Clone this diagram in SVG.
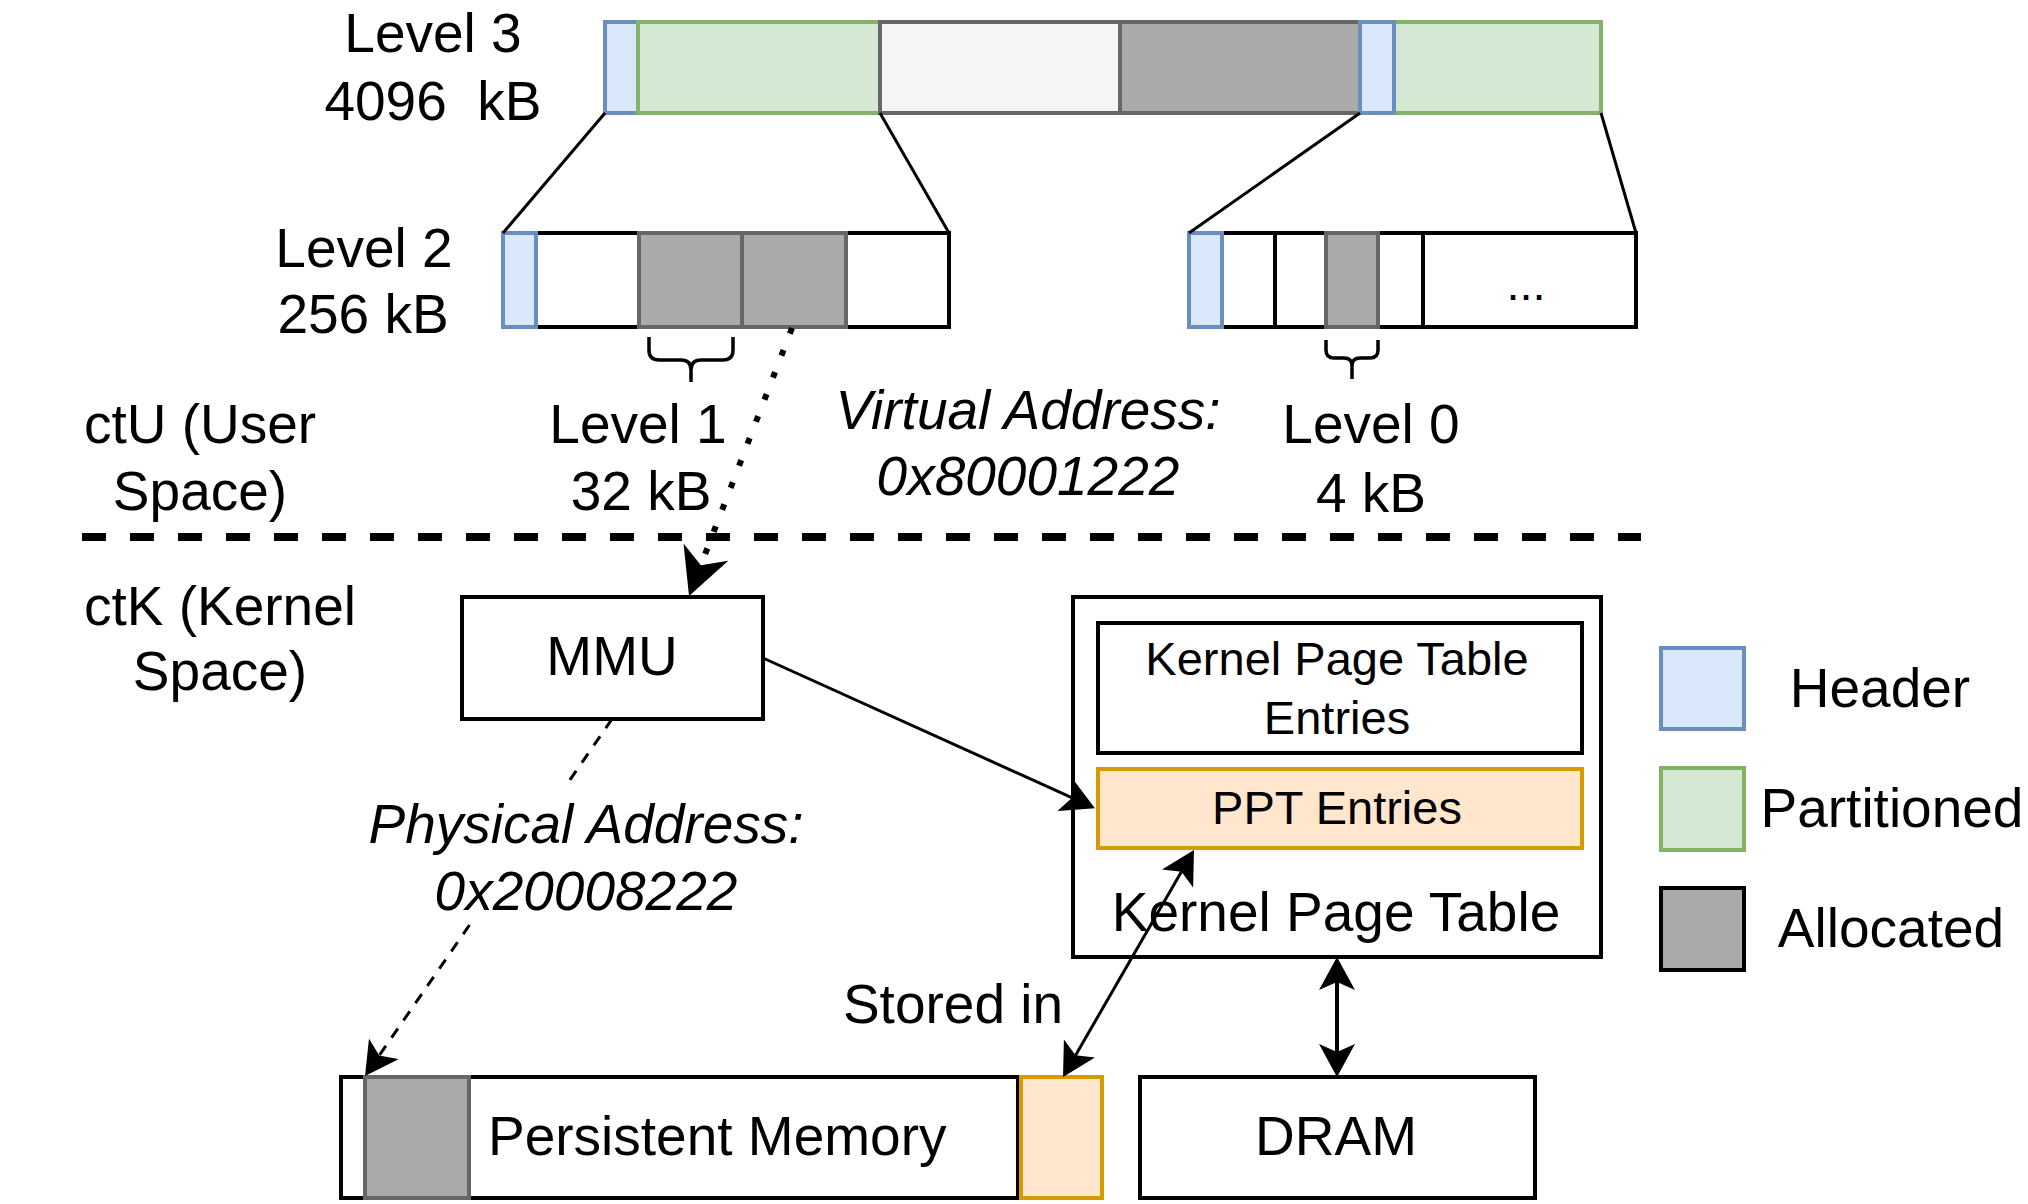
<svg xmlns="http://www.w3.org/2000/svg" width="2028" height="1204" viewBox="0 0 2028 1204">
<style>
  text { font-family: "Liberation Sans", Arial, sans-serif; font-size: 55px; fill: #000; text-anchor: middle; }
  .sm { font-size: 47px; }
  .it { font-style: italic; }
  .st { text-anchor: start; }
  .hdr { fill: #dae8fc; stroke: #6c8ebf; stroke-width: 4; }
  .part { fill: #d5e8d4; stroke: #82b366; stroke-width: 4; }
  .free { fill: #f5f5f5; stroke: #666666; stroke-width: 4; }
  .alloc { fill: #aaaaaa; stroke: #666666; stroke-width: 4; }
  .wbox { fill: #ffffff; stroke: #000000; stroke-width: 4; }
  .ppt { fill: #ffe6cc; stroke: #d79b00; stroke-width: 4; }
  .thin { fill: none; stroke: #000; stroke-width: 3; }
  .brace { fill: none; stroke: #000; stroke-width: 3.5; }
</style>
<defs>
  <marker id="arr" viewBox="0 0 33 36" markerWidth="33" markerHeight="36" refX="13" refY="18" orient="auto-start-reverse" markerUnits="userSpaceOnUse">
    <path d="M33,18 L0,0 L8,18 L0,36 Z" fill="#000"/>
  </marker>
  <marker id="arrBig" viewBox="0 0 47 48" markerWidth="47" markerHeight="48" refX="17" refY="24" orient="auto" markerUnits="userSpaceOnUse">
    <path d="M47,24 L0,0 L14,24 L0,48 Z" fill="#000"/>
  </marker>
</defs>

<!-- Level 3 -->
<g id="level3">
  <rect class="hdr" x="605" y="22" width="33" height="91"/>
  <rect class="part" x="638" y="22" width="242" height="91"/>
  <rect class="free" x="880" y="22" width="240" height="91"/>
  <rect class="alloc" x="1120" y="22" width="240" height="91"/>
  <rect class="part" x="1394" y="22" width="207" height="91"/>
  <rect class="hdr" x="1360" y="22" width="34" height="91"/>
  <text x="433" y="52">Level 3</text>
  <text x="433" y="120" xml:space="preserve">4096  kB</text>
</g>

<!-- Level 2 left -->
<g id="level2-left">
  <rect class="wbox" x="536" y="233" width="413" height="94"/>
  <rect class="wbox" x="536" y="233" width="103" height="94"/>
  <rect class="alloc" x="639" y="233" width="103" height="94"/>
  <rect class="alloc" x="742" y="233" width="104" height="94"/>
  <rect class="hdr" x="503" y="233" width="33" height="94"/>
  <text x="364" y="267">Level 2</text>
  <text x="363" y="333">256 kB</text>
</g>

<!-- Level 2 right -->
<g id="level2-right">
  <rect class="wbox" x="1222" y="233" width="414" height="94"/>
  <rect class="wbox" x="1222" y="233" width="53" height="94"/>
  <rect class="wbox" x="1275" y="233" width="51" height="94"/>
  <rect class="wbox" x="1378" y="233" width="45" height="94"/>
  <rect class="alloc" x="1326" y="233" width="52" height="94"/>
  <rect class="hdr" x="1189" y="233" width="33" height="94"/>
  <text class="sm" x="1526" y="300">...</text>
</g>

<!-- zoom lines and braces -->
<g id="zoom-lines">
  <line class="thin" x1="605" y1="113" x2="503" y2="233"/>
  <line class="thin" x1="880" y1="113" x2="949" y2="233"/>
  <line class="thin" x1="1360" y1="113" x2="1189" y2="233"/>
  <line class="thin" x1="1601" y1="113" x2="1636" y2="233"/>
  <path class="brace" d="M649,337 L649,350 Q649,360 659,360 L681,360 Q691,360 691,370 L691,382 M733,337 L733,350 Q733,360 723,360 L701,360 Q691,360 691,370"/>
  <path class="brace" d="M1326,340 L1326,350 Q1326,358 1334,358 L1344,358 Q1352,358 1352,366 L1352,379 M1378,340 L1378,350 Q1378,358 1370,358 L1360,358 Q1352,358 1352,366"/>
</g>

<g id="labels">
  <text x="200" y="443">ctU (User</text>
  <text x="200" y="510">Space)</text>
  <text x="638" y="443">Level 1</text>
  <text x="641" y="510">32 kB</text>
  <text class="it" x="1028" y="429">Virtual Address:</text>
  <text class="it" x="1028" y="495">0x80001222</text>
  <text x="1371" y="443">Level 0</text>
  <text x="1371" y="512">4 kB</text>
  <text x="220" y="625">ctK (Kernel</text>
  <text x="220" y="690">Space)</text>
  <text class="it" x="586" y="843">Physical Address:</text>
  <text class="it" x="586" y="910">0x20008222</text>
  <text x="953" y="1023">Stored in</text>
</g>

<!-- separator -->
<line id="separator" x1="82" y1="537" x2="1641" y2="537" stroke="#000" stroke-width="8" stroke-dasharray="24 24"/>

<!-- MMU -->
<g id="mmu">
  <rect class="wbox" x="462" y="597" width="301" height="122"/>
  <text x="612" y="675">MMU</text>
</g>

<!-- Kernel Page Table -->
<g id="kernel-page-table">
  <rect class="wbox" x="1073" y="597" width="528" height="360"/>
  <text x="1336" y="931">Kernel Page Table</text>
</g>
<g id="kpt-entries">
  <rect class="wbox" x="1098" y="623" width="484" height="130"/>
  <text class="sm" x="1337" y="675">Kernel Page Table</text>
  <text class="sm" x="1337" y="734">Entries</text>
</g>
<g id="ppt-entries">
  <rect class="ppt" x="1098" y="769" width="484" height="79"/>
  <text class="sm" x="1337" y="824">PPT Entries</text>
</g>

<!-- Persistent Memory -->
<g id="persistent-memory">
  <rect class="wbox" x="341" y="1077" width="677" height="121"/>
  <rect class="alloc" x="365" y="1077" width="104" height="121"/>
  <text class="st" x="488" y="1155">Persistent Memory</text>
</g>
<g id="pm-ppt">
  <rect class="ppt" x="1021" y="1077" width="81" height="121"/>
</g>

<!-- DRAM -->
<g id="dram">
  <rect class="wbox" x="1140" y="1077" width="395" height="121"/>
  <text x="1336" y="1155">DRAM</text>
</g>

<!-- Legend -->
<g id="legend-header">
  <rect class="hdr" x="1661" y="648" width="83" height="81"/>
  <text x="1880" y="707">Header</text>
</g>
<g id="legend-partitioned">
  <rect class="part" x="1661" y="768" width="83" height="82"/>
  <text x="1892" y="827">Partitioned</text>
</g>
<g id="legend-allocated">
  <rect x="1661" y="888" width="83" height="82" fill="#aaaaaa" stroke="#000" stroke-width="4"/>
  <text x="1891" y="947">Allocated</text>
</g>

<!-- connectors -->
<g id="connectors" fill="none" stroke="#000">
  <line x1="792" y1="328" x2="699.8" y2="568" stroke-width="6" stroke-dasharray="6 17.6" marker-end="url(#arrBig)"/>
  <line x1="763" y1="658" x2="1076.7" y2="799.9" stroke-width="3" marker-end="url(#arr)"/>
  <line x1="612" y1="719" x2="565" y2="787" stroke-width="3" stroke-dasharray="11 10"/>
  <line x1="469.5" y1="925" x2="376.4" y2="1059.6" stroke-width="3" stroke-dasharray="11 10" marker-end="url(#arr)"/>
  <line x1="1073" y1="1059.7" x2="1184" y2="867.3" stroke-width="3" marker-start="url(#arr)" marker-end="url(#arr)"/>
  <line x1="1337" y1="977" x2="1337" y2="1057" stroke-width="4" marker-start="url(#arr)" marker-end="url(#arr)"/>
</g>
</svg>
